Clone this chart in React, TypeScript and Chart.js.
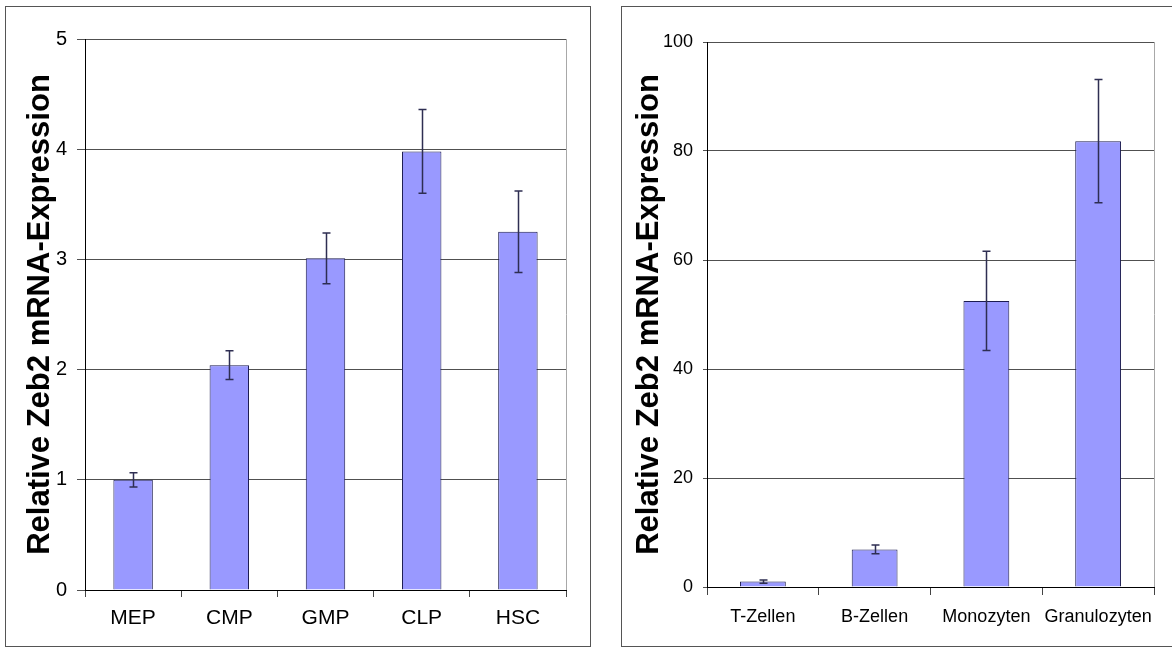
import React, { useEffect, useRef } from 'react';
import { Chart, registerables } from 'chart.js';

Chart.register(...registerables);

const leftCategories = ['MEP', 'CMP', 'GMP', 'CLP', 'HSC'];
const leftValues = [1.0, 2.04, 3.01, 3.98, 3.25];
const leftErrors = [0.065, 0.13, 0.23, 0.38, 0.37];
const leftTicks = { min: 0, max: 5, step: 1 };

const rightCategories = ['T-Zellen', 'B-Zellen', 'Monozyten', 'Granulozyten'];
const rightValues = [1.0, 6.9, 52.5, 81.8];
const rightErrors = [0.3, 0.8, 9.1, 11.3];
const rightTicks = { min: 0, max: 100, step: 20 };

const yTitle = 'Relative Zeb2 mRNA-Expression';

const errorBarPlugin = {
  id: 'errorBars',
  afterDatasetsDraw(chart: any, _args: any, opts: any) {
    const errs: number[] = opts.errors || [];
    const meta = chart.getDatasetMeta(0);
    const ys = chart.scales.y;
    const vals = chart.data.datasets[0].data as number[];
    const ctx = chart.ctx;
    ctx.save();
    ctx.strokeStyle = '#2e2e52';
    ctx.lineWidth = 1.5;
    meta.data.forEach((bar: any, i: number) => {
      const v = vals[i];
      const e = errs[i];
      const x = Math.round(bar.x) + 0.5;
      const yTop = ys.getPixelForValue(v + e);
      const yBot = ys.getPixelForValue(v - e);
      ctx.beginPath();
      ctx.moveTo(x, yTop);
      ctx.lineTo(x, yBot);
      ctx.moveTo(x - 4, yTop);
      ctx.lineTo(x + 4, yTop);
      ctx.moveTo(x - 4, yBot);
      ctx.lineTo(x + 4, yBot);
      ctx.stroke();
    });
    ctx.restore();
  },
};

const plotBorderPlugin = {
  id: 'plotBorder',
  afterDraw(chart: any) {
    const { ctx, chartArea } = chart;
    ctx.save();
    ctx.strokeStyle = '#a8a8a8';
    ctx.lineWidth = 1;
    const x = Math.round(chartArea.right) + 0.5;
    ctx.beginPath();
    ctx.moveTo(x, chartArea.top);
    ctx.lineTo(x, chartArea.bottom);
    ctx.stroke();
    ctx.restore();
  },
};

type PanelProps = {
  categories: string[];
  values: number[];
  errors: number[];
  ticks: { min: number; max: number; step: number };
  width: number;
  height: number;
  padTop: number;
  padRight: number;
  yWidth: number;
  xHeight: number;
  tickFont: any;
  xFont: any;
  yTickLen: number;
  yTickPad: number;
  xTickLen: number;
  xTickPad: number;
  titlePad: number;
};

function Panel(p: PanelProps) {
  const ref = useRef<HTMLCanvasElement | null>(null);
  useEffect(() => {
    if (!ref.current) return;
    const chart = new Chart(ref.current, {
      type: 'bar',
      data: {
        labels: p.categories,
        datasets: [
          {
            data: p.values,
            backgroundColor: '#9999ff',
            borderColor: '#1c1c50',
            borderWidth: 1,
            barPercentage: 1,
            categoryPercentage: 0.41,
          },
        ],
      },
      options: {
        responsive: false,
        animation: false,
        devicePixelRatio: 1,
        layout: { padding: { top: p.padTop, right: p.padRight, left: 0, bottom: 0 } },
        plugins: {
          legend: { display: false },
          tooltip: { enabled: false },
          errorBars: { errors: p.errors },
        } as any,
        scales: {
          x: {
            offset: true,
            grid: {
              offset: true,
              drawOnChartArea: false,
              drawTicks: true,
              tickLength: p.xTickLen,
              color: '#444444',
            },
            border: { color: '#000000', width: 1 },
            ticks: {
              autoSkip: false,
              maxRotation: 0,
              minRotation: 0,
              padding: p.xTickPad,
              color: '#000000',
              font: p.xFont,
            },
            afterFit: (s: any) => {
              s.height = p.xHeight;
            },
          },
          y: {
            min: p.ticks.min,
            max: p.ticks.max,
            grid: {
              color: '#505050',
              tickLength: p.yTickLen,
              drawTicks: true,
            },
            border: { color: '#000000', width: 1 },
            ticks: {
              stepSize: p.ticks.step,
              padding: p.yTickPad,
              color: '#000000',
              font: p.tickFont,
            },
            title: {
              display: true,
              text: yTitle,
              color: '#000000',
              font: { family: "'Liberation Sans', Arial, sans-serif", size: 31, weight: 'bold' },
              padding: { top: p.titlePad, bottom: 0 },
            },
            afterFit: (s: any) => {
              s.width = p.yWidth;
            },
          },
        },
      },
      plugins: [errorBarPlugin, plotBorderPlugin],
    } as any);
    return () => chart.destroy();
  }, []);
  return (
    <canvas
      ref={ref}
      width={p.width}
      height={p.height}
      style={{ position: 'absolute', left: 0, top: 0, width: p.width, height: p.height }}
    />
  );
}

export default function App() {
  const regular = "'Liberation Sans', Arial, sans-serif";
  return (
    <div
      style={{
        position: 'fixed',
        left: 0,
        top: 0,
        width: 1172,
        height: 648,
        background: '#ffffff',
        overflow: 'hidden',
      }}
    >
      <div
        style={{
          position: 'absolute',
          left: 5,
          top: 6,
          width: 586,
          height: 641,
          boxSizing: 'border-box',
          border: '1px solid #555555',
        }}
      >
        <Panel
          categories={leftCategories}
          values={leftValues}
          errors={leftErrors}
          ticks={leftTicks}
          width={584}
          height={639}
          padTop={32}
          padRight={24}
          yWidth={79}
          xHeight={56}
          tickFont={{ family: regular, size: 20 }}
          xFont={{ family: regular, size: 21 }}
          yTickLen={8}
          yTickPad={10}
          xTickLen={7}
          xTickPad={9}
          titlePad={16}
        />
      </div>
      <div
        style={{
          position: 'absolute',
          left: 621,
          top: 6,
          width: 560,
          height: 641,
          boxSizing: 'border-box',
          border: '1px solid #555555',
        }}
      >
        <Panel
          categories={rightCategories}
          values={rightValues}
          errors={rightErrors}
          ticks={rightTicks}
          width={550}
          height={639}
          padTop={35}
          padRight={18}
          yWidth={85}
          xHeight={59}
          tickFont={{ family: regular, size: 18 }}
          xFont={{ family: regular, size: 18 }}
          yTickLen={4}
          yTickPad={10}
          xTickLen={8}
          xTickPad={11}
          titlePad={9}
        />
      </div>
    </div>
  );
}
